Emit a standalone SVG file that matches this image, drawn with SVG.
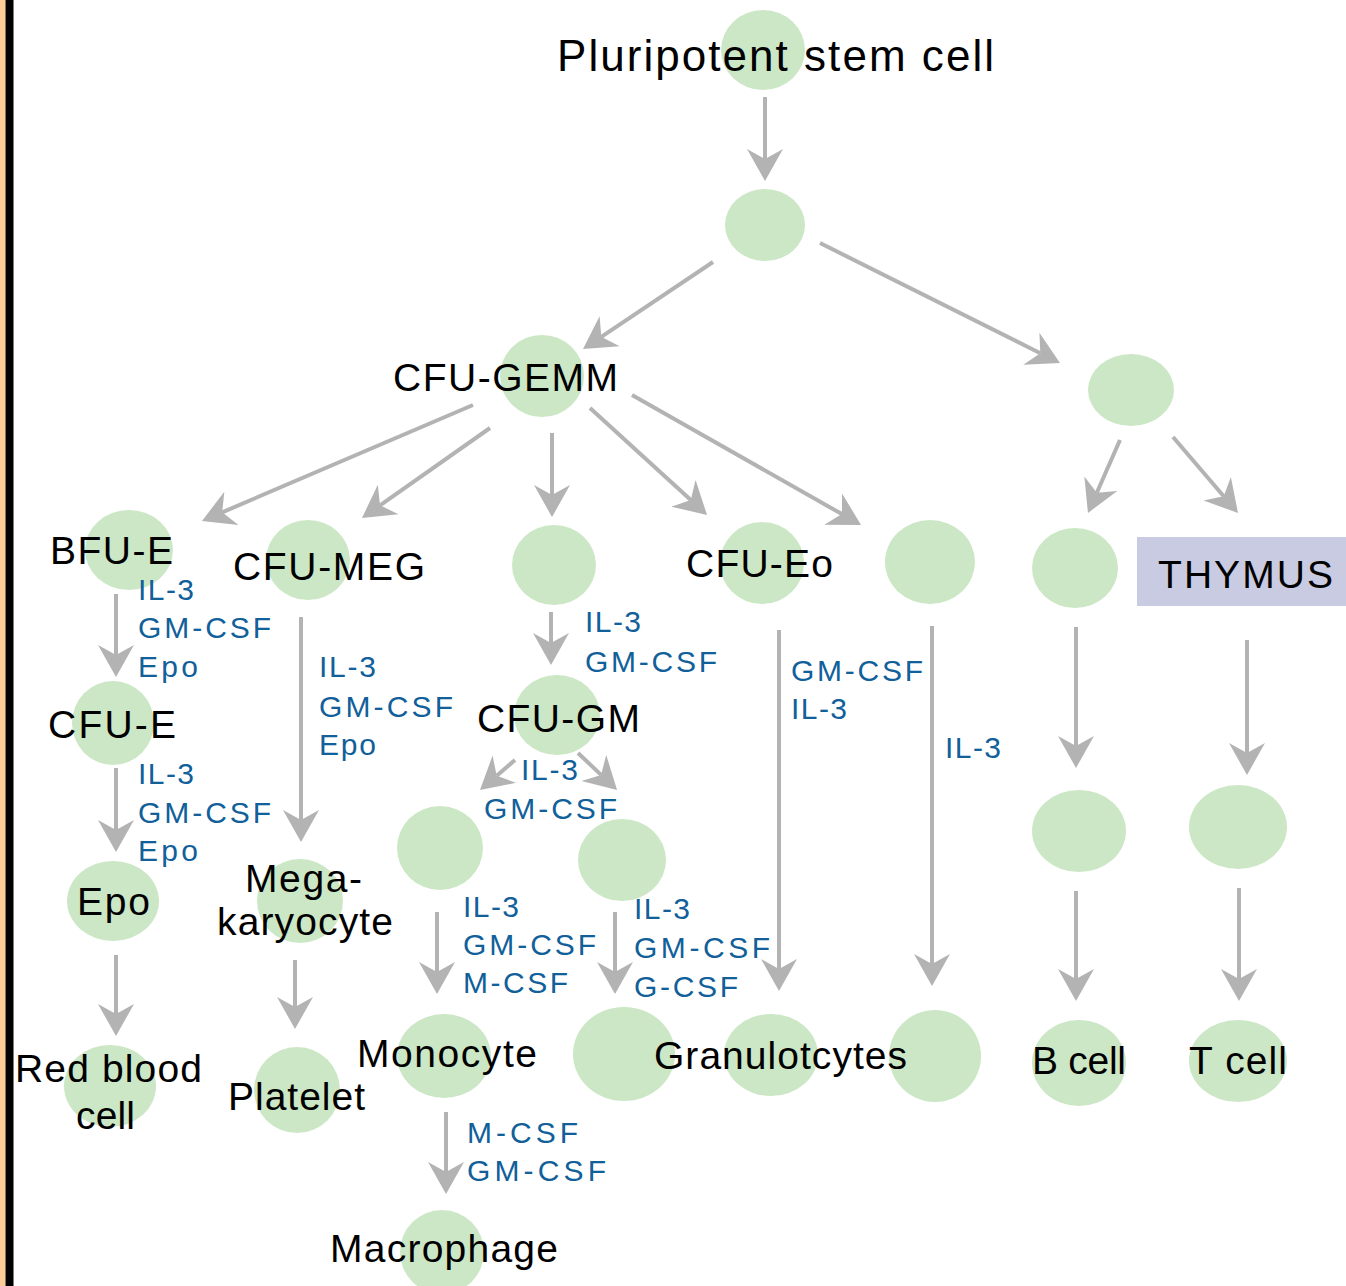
<svg xmlns="http://www.w3.org/2000/svg" width="1346" height="1286" viewBox="0 0 1346 1286">
<style>
.cell{fill:#cce7c5}
.lbl{font-family:"Liberation Sans",Arial,sans-serif;font-size:39px;fill:#000}
.cyt{font-family:"Liberation Sans",Arial,sans-serif;font-size:30px;fill:#11609a}
.con{stroke:#b3b3b3;stroke-width:4;fill:none;marker-end:url(#ah)}
</style>
<defs>
<marker id="ah" markerUnits="userSpaceOnUse" viewBox="-12 -20 36 40" markerWidth="36" markerHeight="40" refX="0" refY="0" orient="auto" overflow="visible">
<path d="M22,0 L-10,-18 L0,0 L-10,18 Z" fill="#b3b3b3"/>
</marker>
</defs>
<rect x="0" y="0" width="1346" height="1286" fill="#fff"/>
<rect x="0" y="0" width="5.5" height="1286" fill="#ffcc99"/>
<rect x="5.5" y="0" width="8" height="1286" fill="#000"/>

<g id="connectors">
<line class="con" x1="765" y1="97" x2="765" y2="159"/>
<line class="con" x1="713" y1="262" x2="601.3" y2="336.8"/>
<line class="con" x1="820" y1="243" x2="1040.3" y2="353.2"/>
<line class="con" x1="473" y1="405" x2="222.2" y2="512.3"/>
<line class="con" x1="490" y1="428" x2="380" y2="505.3"/>
<line class="con" x1="552" y1="433" x2="552" y2="495"/>
<line class="con" x1="590" y1="408" x2="690.8" y2="500.1"/>
<line class="con" x1="632" y1="395" x2="841.9" y2="514.1"/>
<line class="con" x1="1120" y1="440" x2="1096.8" y2="492.8"/>
<line class="con" x1="1173" y1="437" x2="1223.7" y2="496.3"/>
<line class="con" x1="116" y1="594" x2="116" y2="655"/>
<line class="con" x1="116" y1="768" x2="116" y2="830"/>
<line class="con" x1="301" y1="617" x2="301" y2="820"/>
<line class="con" x1="551" y1="612" x2="551" y2="643"/>
<line class="con" x1="515" y1="760" x2="496.7" y2="775.7"/>
<line class="con" x1="578" y1="753" x2="601.1" y2="774.9"/>
<line class="con" x1="437" y1="912" x2="437" y2="972"/>
<line class="con" x1="615" y1="912" x2="615" y2="972"/>
<line class="con" x1="779" y1="630" x2="779" y2="969"/>
<line class="con" x1="932" y1="626" x2="932" y2="964"/>
<line class="con" x1="1076" y1="627" x2="1076" y2="746"/>
<line class="con" x1="1247" y1="640" x2="1247" y2="753"/>
<line class="con" x1="1076" y1="891" x2="1076" y2="979"/>
<line class="con" x1="1239" y1="888" x2="1239" y2="979"/>
<line class="con" x1="116" y1="955" x2="116" y2="1014"/>
<line class="con" x1="295" y1="960" x2="295" y2="1007"/>
<line class="con" x1="446" y1="1112" x2="446" y2="1172"/>
</g>

<g id="pluripotent"><ellipse class="cell" cx="763" cy="50" rx="42" ry="40"/><text class="lbl" x="557" y="71" style="font-size:44px" textLength="437" lengthAdjust="spacing">Pluripotent stem cell</text></g>
<g id="progenitor"><ellipse class="cell" cx="765" cy="225" rx="40" ry="36"/></g>
<g id="cfu-gemm"><ellipse class="cell" cx="542" cy="376" rx="42" ry="41"/><text class="lbl" x="393" y="391" textLength="225" lengthAdjust="spacing">CFU-GEMM</text></g>
<g id="lymphoid"><ellipse class="cell" cx="1131" cy="390" rx="43" ry="36"/></g>
<g id="bfu-e"><ellipse class="cell" cx="129" cy="550" rx="44" ry="40"/><text class="lbl" x="50" y="564" textLength="123" lengthAdjust="spacing">BFU-E</text></g>
<g id="cfu-meg"><ellipse class="cell" cx="308" cy="560" rx="42" ry="40"/><text class="lbl" x="233" y="580" textLength="192" lengthAdjust="spacing">CFU-MEG</text></g>
<g id="gm-precursor"><ellipse class="cell" cx="554" cy="565" rx="42" ry="40"/></g>
<g id="cfu-eo"><ellipse class="cell" cx="762" cy="563" rx="42" ry="41"/><text class="lbl" x="686" y="577" textLength="147" lengthAdjust="spacing">CFU-Eo</text></g>
<g id="baso-precursor"><ellipse class="cell" cx="930" cy="562" rx="45" ry="42"/></g>
<g id="b-precursor"><ellipse class="cell" cx="1075" cy="568" rx="43" ry="40"/></g>
<g id="thymus"><rect x="1137" y="537" width="209" height="69" fill="#c9cbe3"/><text class="lbl" x="1158" y="588" textLength="175" lengthAdjust="spacing">THYMUS</text></g>
<g id="cfu-e"><ellipse class="cell" cx="113" cy="723" rx="41" ry="42"/><text class="lbl" x="48" y="738" textLength="128" lengthAdjust="spacing">CFU-E</text></g>
<g id="cfu-gm"><ellipse class="cell" cx="557" cy="715" rx="43" ry="40"/><text class="lbl" x="477" y="732" textLength="163" lengthAdjust="spacing">CFU-GM</text></g>
<g id="mono-precursor"><ellipse class="cell" cx="440" cy="848" rx="43" ry="42"/></g>
<g id="gran-precursor"><ellipse class="cell" cx="622" cy="860" rx="44" ry="41"/></g>
<g id="epo"><ellipse class="cell" cx="113" cy="901" rx="46" ry="40"/><text class="lbl" x="77" y="915" textLength="73" lengthAdjust="spacing">Epo</text></g>
<g id="megakaryocyte"><ellipse class="cell" cx="300" cy="901" rx="43" ry="42"/><text class="lbl" x="245" y="892" textLength="117" lengthAdjust="spacing">Mega-</text><text class="lbl" x="217" y="935" textLength="176" lengthAdjust="spacing">karyocyte</text></g>
<g id="b-mid"><ellipse class="cell" cx="1079" cy="831" rx="47" ry="41"/></g>
<g id="t-mid"><ellipse class="cell" cx="1238" cy="827" rx="49" ry="42"/></g>
<g id="rbc"><ellipse class="cell" cx="110" cy="1086" rx="46" ry="41"/><text class="lbl" x="15" y="1082" textLength="187" lengthAdjust="spacing">Red blood</text><text class="lbl" x="76" y="1129" textLength="59" lengthAdjust="spacing">cell</text></g>
<g id="platelet"><ellipse class="cell" cx="297" cy="1090" rx="43" ry="43"/><text class="lbl" x="228" y="1110" textLength="137" lengthAdjust="spacing">Platelet</text></g>
<g id="monocyte"><ellipse class="cell" cx="444" cy="1056" rx="47" ry="42"/><text class="lbl" x="357" y="1067" textLength="180" lengthAdjust="spacing">Monocyte</text></g>
<g id="granulocytes"><ellipse class="cell" cx="624" cy="1054" rx="51" ry="47"/><ellipse class="cell" cx="771" cy="1055" rx="47" ry="41"/><ellipse class="cell" cx="935" cy="1056" rx="46" ry="46"/><text class="lbl" x="654" y="1069" textLength="253" lengthAdjust="spacing">Granulotcytes</text></g>
<g id="macrophage"><ellipse class="cell" cx="442" cy="1252" rx="42" ry="42"/><text class="lbl" x="330" y="1262" textLength="228" lengthAdjust="spacing">Macrophage</text></g>
<g id="b-cell"><ellipse class="cell" cx="1079" cy="1063" rx="47" ry="43"/><text class="lbl" x="1032" y="1074" textLength="94" lengthAdjust="spacing">B cell</text></g>
<g id="t-cell"><ellipse class="cell" cx="1238" cy="1061" rx="49" ry="41"/><text class="lbl" x="1189" y="1074" textLength="98" lengthAdjust="spacing">T cell</text></g>

<g id="cytokines">
<text class="cyt" x="138" y="600" textLength="56" lengthAdjust="spacing">IL-3</text>
<text class="cyt" x="138" y="638" textLength="133" lengthAdjust="spacing">GM-CSF</text>
<text class="cyt" x="138" y="677" textLength="60" lengthAdjust="spacing">Epo</text>
<text class="cyt" x="138" y="784" textLength="56" lengthAdjust="spacing">IL-3</text>
<text class="cyt" x="138" y="823" textLength="133" lengthAdjust="spacing">GM-CSF</text>
<text class="cyt" x="138" y="861" textLength="60" lengthAdjust="spacing">Epo</text>
<text class="cyt" x="319" y="677" textLength="57" lengthAdjust="spacing">IL-3</text>
<text class="cyt" x="319" y="717" textLength="134" lengthAdjust="spacing">GM-CSF</text>
<text class="cyt" x="319" y="755" textLength="57" lengthAdjust="spacing">Epo</text>
<text class="cyt" x="585" y="632" textLength="56" lengthAdjust="spacing">IL-3</text>
<text class="cyt" x="585" y="672" textLength="132" lengthAdjust="spacing">GM-CSF</text>
<text class="cyt" x="791" y="681" textLength="132" lengthAdjust="spacing">GM-CSF</text>
<text class="cyt" x="791" y="719" textLength="56" lengthAdjust="spacing">IL-3</text>
<text class="cyt" x="945" y="758" textLength="56" lengthAdjust="spacing">IL-3</text>
<text class="cyt" x="521" y="780" textLength="57" lengthAdjust="spacing">IL-3</text>
<text class="cyt" x="484" y="819" textLength="133" lengthAdjust="spacing">GM-CSF</text>
<text class="cyt" x="463" y="917" textLength="56" lengthAdjust="spacing">IL-3</text>
<text class="cyt" x="463" y="955" textLength="133" lengthAdjust="spacing">GM-CSF</text>
<text class="cyt" x="463" y="993" textLength="105" lengthAdjust="spacing">M-CSF</text>
<text class="cyt" x="634" y="919" textLength="56" lengthAdjust="spacing">IL-3</text>
<text class="cyt" x="634" y="958" textLength="136" lengthAdjust="spacing">GM-CSF</text>
<text class="cyt" x="634" y="997" textLength="104" lengthAdjust="spacing">G-CSF</text>
<text class="cyt" x="467" y="1143" textLength="111" lengthAdjust="spacing">M-CSF</text>
<text class="cyt" x="467" y="1181" textLength="139" lengthAdjust="spacing">GM-CSF</text>
</g>
</svg>
